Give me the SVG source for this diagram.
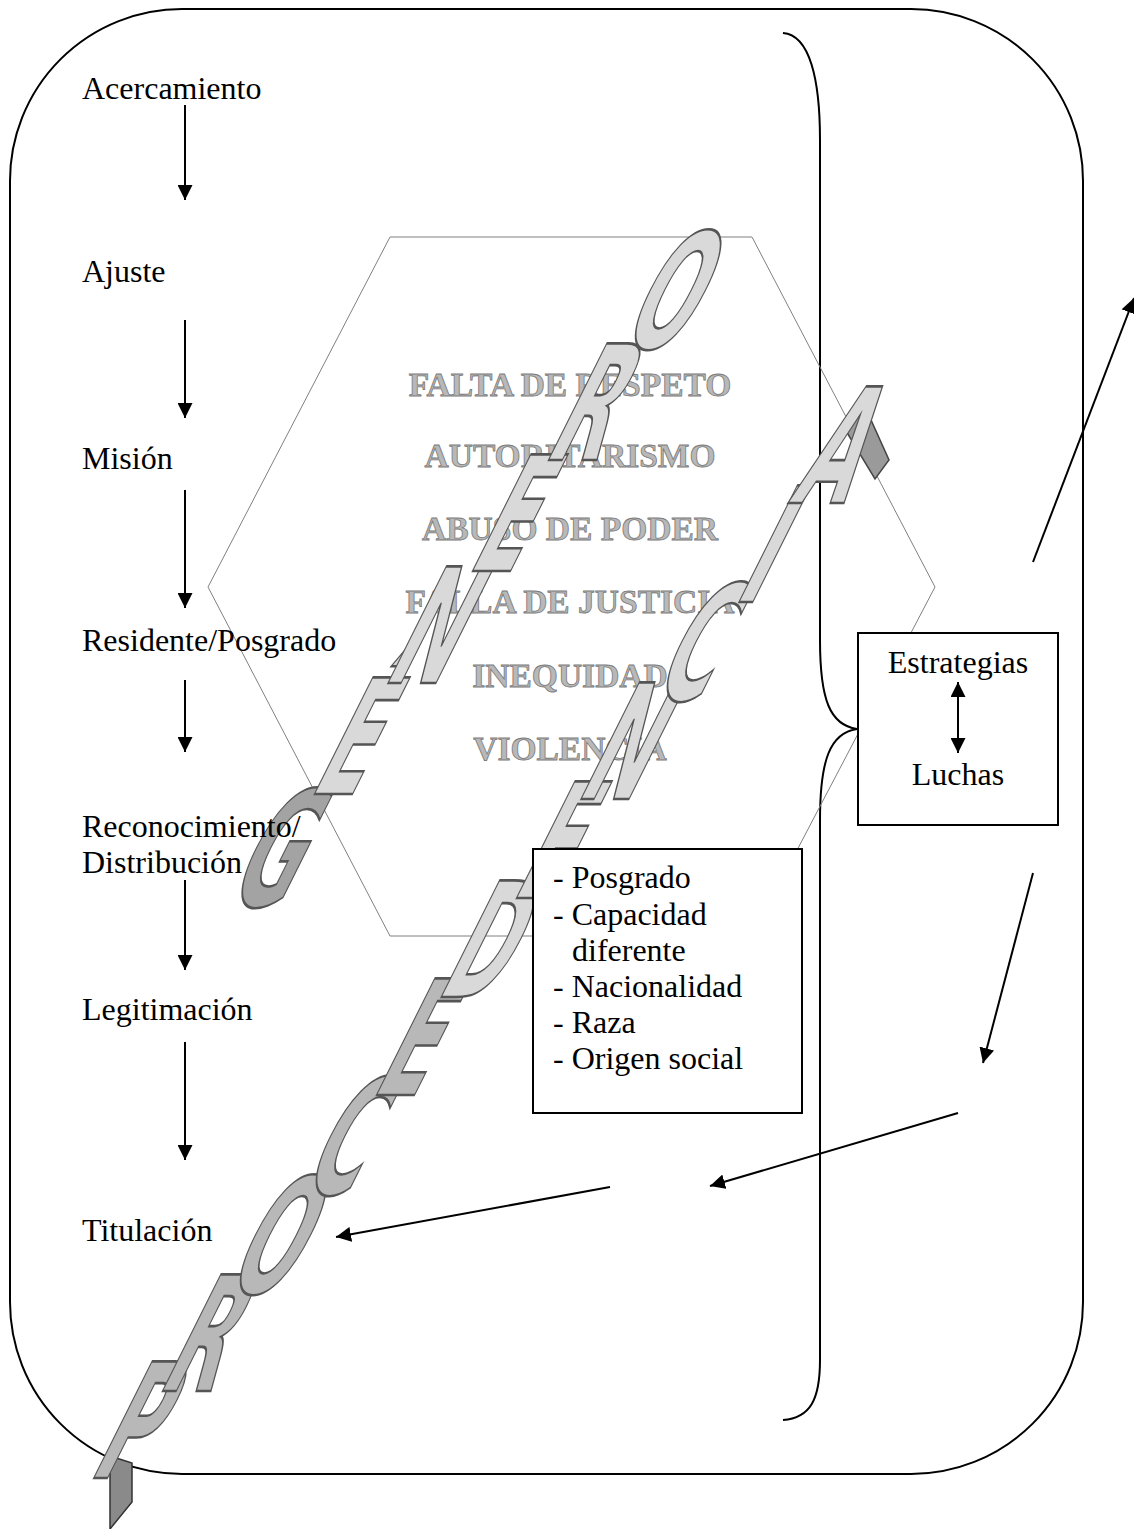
<svg xmlns="http://www.w3.org/2000/svg" width="1134" height="1529" viewBox="0 0 1134 1529">
<defs>
<marker id="ah" viewBox="0 0 10 10" refX="10" refY="5" markerWidth="7.5" markerHeight="7.5" orient="auto" markerUnits="strokeWidth">
<path d="M0,0 L10,5 L0,10 Z" fill="#000"/>
</marker>
<marker id="ahs" viewBox="0 0 10 10" refX="0" refY="5" markerWidth="7.5" markerHeight="7.5" orient="auto" markerUnits="strokeWidth">
<path d="M10,0 L0,5 L10,10 Z" fill="#000"/>
</marker>
</defs>
<style>
.lbl{font-family:"Liberation Serif","Times New Roman",serif;font-size:32px;fill:#000}
.hx{font-family:"Liberation Serif","Times New Roman",serif;font-size:33.5px;font-weight:bold;fill:#b8b8b8;stroke:#7a7a7a;stroke-width:0.8;text-anchor:middle}
.wa{font-family:"DejaVu Sans","Liberation Sans",sans-serif;font-weight:bold;font-size:160px;text-anchor:middle;stroke:#555;stroke-width:2.6}
.d{fill:#a3a3a3}
.m{fill:#b8b8b8}
.l{fill:#d9d9d9}
.conn{stroke:#000;stroke-width:2;fill:none}
</style>
<rect width="1134" height="1529" fill="#fff"/>
<g id="frame">
<rect x="10" y="9" width="1073" height="1465" rx="172" ry="172" fill="none" stroke="#000" stroke-width="2"/>
</g>
<g id="brace">
<path d="M783,33 C810,35 820,80 820,140 L820,640 C820,700 830,725 857,729 C830,733 820,760 820,820 L820,1360 C820,1400 810,1418 783,1420" fill="none" stroke="#000" stroke-width="2"/>
</g>
<g id="hexagon">
<polygon points="390,237 752,237 935,587 752,936 390,936 208,587" fill="none" stroke="#808080" stroke-width="1"/>
<text class="hx" x="570" y="396">FALTA DE RESPETO</text>
<text class="hx" x="570" y="467">AUTORITARISMO</text>
<text class="hx" x="570" y="540">ABUSO DE PODER</text>
<text class="hx" x="570" y="613">FALLA DE JUSTICIA</text>
<text class="hx" x="570" y="687">INEQUIDAD</text>
<text class="hx" x="570" y="760">VIOLENCIA</text>
</g>
<g id="wordart-genero">
<text class="wa d" transform="translate(254,906) matrix(0.46,0,-0.5,1,0,0)">G</text>
<text class="wa l" transform="translate(333,794) matrix(0.46,0,-0.5,1,0,0)">É</text>
<text class="wa l" transform="translate(412,683) matrix(0.46,0,-0.5,1,0,0)">N</text>
<text class="wa l" transform="translate(491,571) matrix(0.46,0,-0.5,1,0,0)">E</text>
<text class="wa l" transform="translate(570,460) matrix(0.46,0,-0.5,1,0,0)">R</text>
<text class="wa l" transform="translate(649,348) matrix(0.46,0,-0.5,1,0,0)">O</text>
</g>
<g id="wordart-procedencia">
<polygon points="110,1456 132,1463 132,1502 110,1529" fill="#8a8a8a" stroke="#333" stroke-width="1.5"/>
<polygon points="843,426 862,400 889,460 875,479" fill="#9a9a9a" stroke="#444" stroke-width="1.5"/>
<text class="wa m" transform="translate(114,1478) matrix(0.46,0,-0.5,1,0,0)">P</text>
<text class="wa m" transform="translate(184,1391) matrix(0.46,0,-0.5,1,0,0)">R</text>
<text class="wa m" transform="translate(254,1293) matrix(0.46,0,-0.5,1,0,0)">O</text>
<text class="wa m" transform="translate(325,1194) matrix(0.46,0,-0.5,1,0,0)">C</text>
<text class="wa m" transform="translate(395,1095) matrix(0.46,0,-0.5,1,0,0)">E</text>
<text class="wa l" transform="translate(465,997) matrix(0.46,0,-0.5,1,0,0)">D</text>
<text class="wa l" transform="translate(535,898) matrix(0.46,0,-0.5,1,0,0)">E</text>
<text class="wa l" transform="translate(605,799) matrix(0.46,0,-0.5,1,0,0)">N</text>
<text class="wa l" transform="translate(676,700) matrix(0.46,0,-0.5,1,0,0)">C</text>
<text class="wa l" transform="translate(746,602) matrix(0.46,0,-0.5,1,0,0)">I</text>
<text class="wa l" transform="translate(816,503) matrix(0.46,0,-0.5,1,0,0)">A</text>
</g>
<g id="stages">
<text class="lbl" x="82" y="99">Acercamiento</text>
<text class="lbl" x="82" y="282">Ajuste</text>
<text class="lbl" x="82" y="469">Misión</text>
<text class="lbl" x="82" y="651">Residente/Posgrado</text>
<text class="lbl" x="82" y="837">Reconocimiento/</text>
<text class="lbl" x="82" y="873">Distribución</text>
<text class="lbl" x="82" y="1020">Legitimación</text>
<text class="lbl" x="82" y="1241">Titulación</text>
</g>
<g id="factors">
<rect x="533" y="849" width="269" height="264" fill="#fff" stroke="#000" stroke-width="2"/>
<text class="lbl" x="553" y="888">- Posgrado</text>
<text class="lbl" x="553" y="925">- Capacidad</text>
<text class="lbl" x="572" y="961">diferente</text>
<text class="lbl" x="553" y="997">- Nacionalidad</text>
<text class="lbl" x="553" y="1033">- Raza</text>
<text class="lbl" x="553" y="1069">- Origen social</text>
</g>
<g id="estrategias">
<rect x="858" y="633" width="200" height="192" fill="#fff" stroke="#000" stroke-width="2"/>
<text class="lbl" x="958" y="673" text-anchor="middle">Estrategias</text>
<text class="lbl" x="958" y="785" text-anchor="middle">Luchas</text>
</g>
<g id="connectors">
<line class="conn" x1="185" y1="105" x2="185" y2="200" marker-end="url(#ah)"/>
<line class="conn" x1="185" y1="320" x2="185" y2="418" marker-end="url(#ah)"/>
<line class="conn" x1="185" y1="490" x2="185" y2="608" marker-end="url(#ah)"/>
<line class="conn" x1="185" y1="680" x2="185" y2="752" marker-end="url(#ah)"/>
<line class="conn" x1="185" y1="880" x2="185" y2="970" marker-end="url(#ah)"/>
<line class="conn" x1="185" y1="1042" x2="185" y2="1160" marker-end="url(#ah)"/>
<line class="conn" x1="958" y1="682" x2="958" y2="753" marker-start="url(#ahs)" marker-end="url(#ah)"/>
<line class="conn" x1="1033" y1="562" x2="1134" y2="298" marker-end="url(#ah)"/>
<line class="conn" x1="1033" y1="873" x2="983" y2="1063" marker-end="url(#ah)"/>
<line class="conn" x1="958" y1="1113" x2="710" y2="1186" marker-end="url(#ah)"/>
<line class="conn" x1="610" y1="1187" x2="336" y2="1237" marker-end="url(#ah)"/>
</g>
</svg>
